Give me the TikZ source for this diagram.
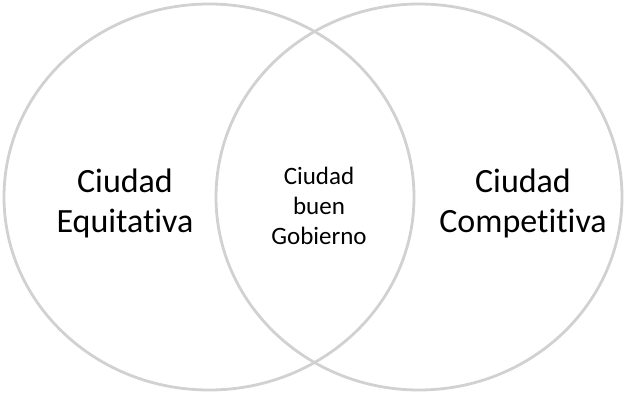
\documentclass[tikz,border=0pt]{standalone}
\usepackage{fontspec}
\setmainfont[Ligatures = NoCommon]{Carlito}
\usetikzlibrary{shapes.geometric, positioning}

\begin{document}
\begin{tikzpicture}[x = 1pt, y = -1pt]
\tikzstyle{ring} = [ellipse, draw = black!18, line width = 2.8pt, inner sep = 0pt]
\tikzstyle{big} = [align = center, font = \fontsize{34}{40}\selectfont]
\tikzstyle{small} = [align = center, font = \fontsize{25}{30}\selectfont]
\useasboundingbox (0,0) rectangle (624,393);
  \node[ring, minimum width = 410pt, minimum height = 386pt] (equit) at (209,197) {};
  \node[ring, minimum width = 406pt, minimum height = 386pt] (compet) at (419,197) {};
  \node[big] (equitxt) at (125,203) {Ciudad\\Equitativa};
  \node[big] (compettxt) at (523,203) {Ciudad\\Competitiva};
  \node[small] (buentxt) at (319,206) {Ciudad\\buen\\Gobierno};
\end{tikzpicture}
\end{document}
